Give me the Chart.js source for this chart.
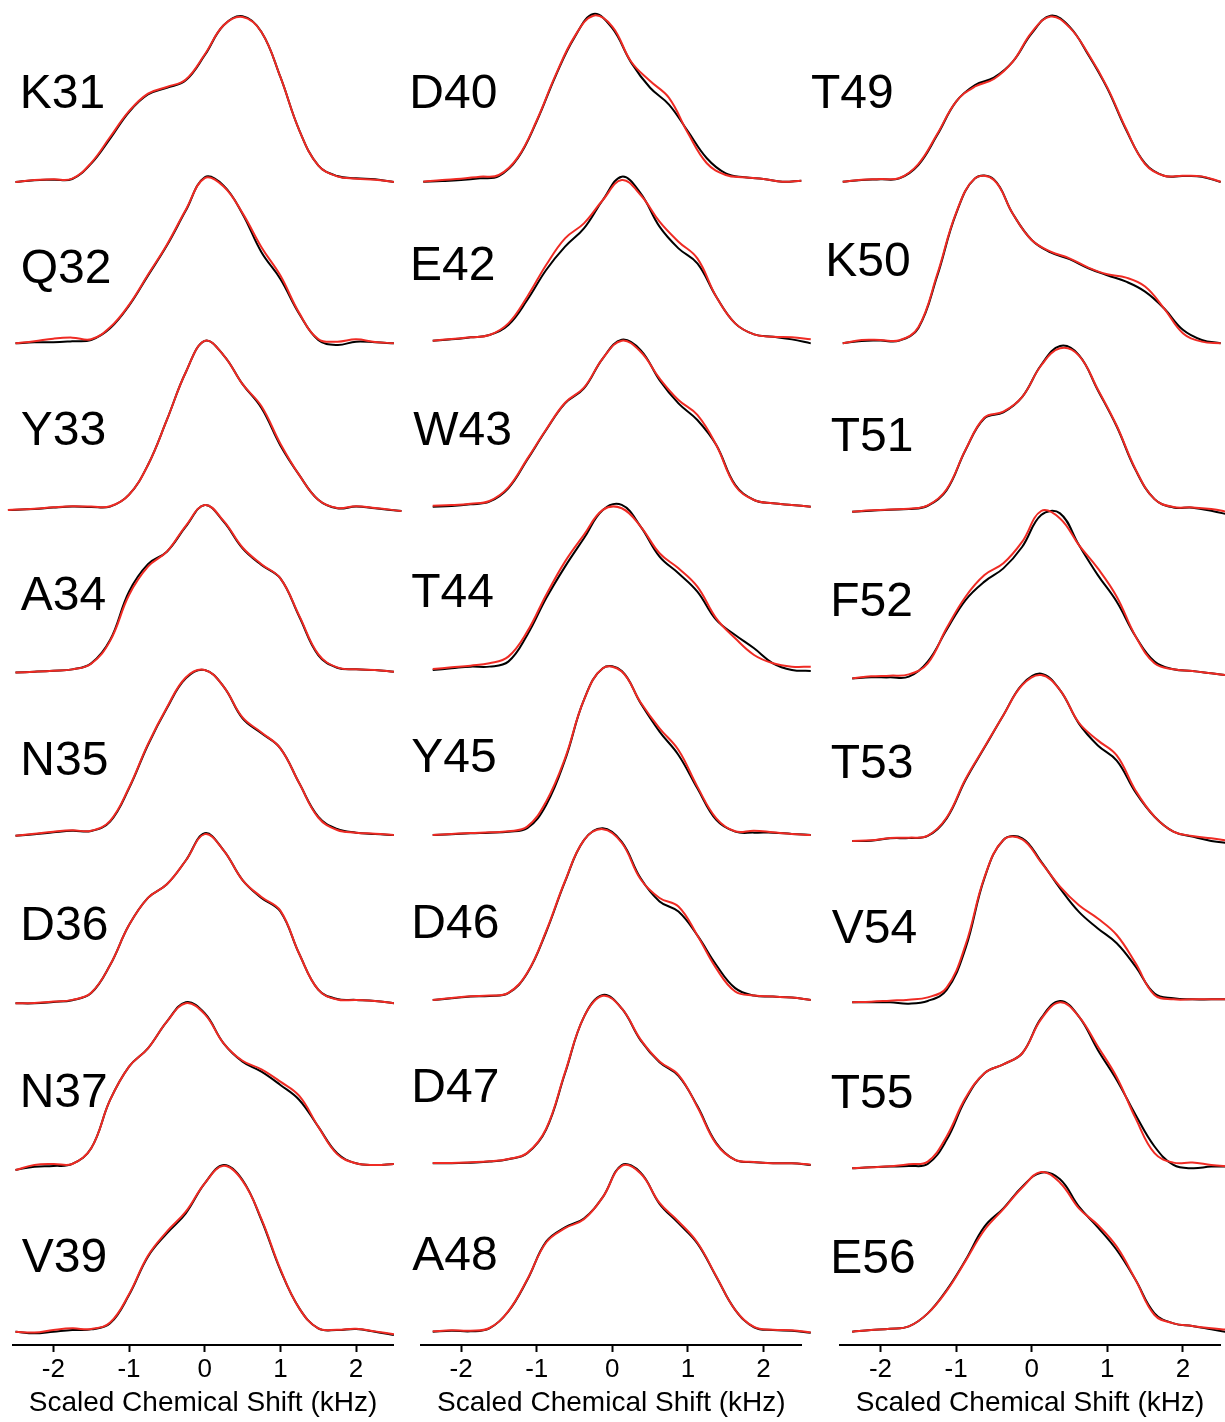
<!DOCTYPE html>
<html><head><meta charset="utf-8">
<script src="https://cdn.jsdelivr.net/npm/chart.js@4.4.1/dist/chart.umd.min.js"></script>
<style>
html,body{margin:0;padding:0;background:#fff;}
body{width:1225px;height:1422px;position:relative;overflow:hidden;}
canvas{position:absolute;top:0;}
</style></head><body>
<canvas id="c1" width="405" height="1422" style="left:0px"></canvas>
<canvas id="c2" width="410" height="1422" style="left:405px"></canvas>
<canvas id="c3" width="425" height="1422" style="left:800px"></canvas>
<script>
// ---------- x grids (kHz) ----------
const gridA = [-2.5,-2.25,-2,-1.75,-1.5,-1.25,-1,-0.75,-0.5,-0.25,0,0.25,0.5,0.75,1,1.25,1.5,1.75,2,2.25,2.5];
const gridB = [-2.375,-2.125,-1.875,-1.625,-1.375,-1.125,-0.875,-0.625,-0.375,-0.125,0.125,0.375,0.625,0.875,1.125,1.375,1.625,1.875,2.125,2.375,2.625];
const gridY33 = [-2.6,-2.25,-2,-1.75,-1.5,-1.25,-1,-0.75,-0.5,-0.25,0,0.25,0.5,0.75,1,1.25,1.5,1.75,2,2.25,2.6];
const tickValues = [-2,-1,0,1,2];
const axisTitle = 'Scaled Chemical Shift (kHz)';

// ---------- column 1 ----------
const K31_black = [0.00,0.01,0.014,0.018,0.11,0.26,0.42,0.525,0.565,0.61,0.76,0.94,0.995,0.9,0.63,0.31,0.10,0.036,0.022,0.016,0.0];
const K31_red   = [0.0,0.012,0.016,0.02,0.115,0.27,0.425,0.53,0.57,0.615,0.765,0.94,0.99,0.9,0.63,0.31,0.10,0.034,0.02,0.014,0.0];
const Q32_black = [-0.006,0.0,0.0,0.006,0.014,0.084,0.22,0.40,0.58,0.79,0.99,0.94,0.77,0.54,0.38,0.17,0.014,-0.016,0.004,0.0,-0.006];
const Q32_red   = [-0.006,0.006,0.022,0.028,0.018,0.09,0.225,0.405,0.585,0.795,0.985,0.935,0.775,0.57,0.40,0.175,0.02,0.004,0.018,0.002,-0.006];
const Y33_black = [0.0,0.006,0.014,0.02,0.018,0.02,0.09,0.265,0.53,0.81,0.995,0.91,0.74,0.60,0.38,0.205,0.06,0.01,0.02,0.01,-0.006];
const Y33_red   = [0.0,0.008,0.016,0.022,0.02,0.022,0.09,0.265,0.53,0.81,0.995,0.91,0.74,0.61,0.39,0.205,0.06,0.012,0.022,0.012,-0.006];
const A34_black = [-0.005,0.0,0.006,0.014,0.05,0.19,0.48,0.645,0.72,0.87,1.0,0.90,0.74,0.64,0.56,0.33,0.10,0.024,0.014,0.01,0.0];
const A34_red   = [-0.005,0.0,0.006,0.014,0.048,0.185,0.46,0.63,0.72,0.875,1.0,0.905,0.745,0.645,0.56,0.335,0.105,0.026,0.014,0.01,0.0];
const N35_black = [-0.004,0.004,0.016,0.026,0.024,0.08,0.28,0.54,0.76,0.94,0.99,0.89,0.70,0.61,0.52,0.31,0.11,0.036,0.014,0.006,0.0];
const N35_red   = [-0.004,0.008,0.02,0.028,0.026,0.085,0.285,0.545,0.765,0.945,0.99,0.89,0.705,0.615,0.52,0.31,0.105,0.03,0.014,0.008,0.0];
const D36_black = [0.0,0.0,0.008,0.018,0.06,0.225,0.46,0.62,0.70,0.84,1.0,0.90,0.725,0.62,0.54,0.29,0.08,0.025,0.02,0.014,0.0];
const D36_red   = [0.0,0.002,0.01,0.02,0.062,0.225,0.46,0.62,0.70,0.84,0.995,0.90,0.725,0.625,0.545,0.29,0.08,0.022,0.02,0.014,0.0];
const N37_black = [-0.01,0.01,0.014,0.026,0.12,0.41,0.61,0.72,0.88,0.996,0.93,0.75,0.64,0.58,0.50,0.41,0.25,0.09,0.03,0.02,0.026];
const N37_red   = [-0.01,0.02,0.026,0.026,0.12,0.41,0.61,0.72,0.88,0.99,0.925,0.75,0.645,0.594,0.52,0.434,0.25,0.085,0.03,0.02,0.026];
const V39_black = [0.0,-0.01,0.0,0.01,0.014,0.05,0.22,0.45,0.59,0.71,0.89,1.0,0.91,0.67,0.37,0.14,0.02,0.01,0.016,0.0,-0.02];
const V39_red   = [0.0,-0.005,0.01,0.02,0.016,0.055,0.225,0.455,0.6,0.72,0.89,0.995,0.905,0.675,0.375,0.14,0.02,0.012,0.018,0.002,-0.015];

// ---------- column 2 ----------
const D40_black = [0,0.004,0.01,0.02,0.034,0.14,0.36,0.63,0.86,1.0,0.915,0.71,0.56,0.46,0.30,0.14,0.05,0.026,0.016,0.0,0.006];
const D40_red   = [0,0.01,0.018,0.03,0.04,0.145,0.365,0.635,0.865,0.99,0.925,0.715,0.60,0.50,0.29,0.11,0.04,0.026,0.016,0.0,0.006];
const E42_black = [0,0.008,0.02,0.034,0.094,0.244,0.424,0.564,0.674,0.844,0.984,0.884,0.684,0.554,0.464,0.264,0.104,0.038,0.024,0.008,-0.016];
const E42_red   = [0,0.01,0.02,0.034,0.104,0.264,0.454,0.614,0.704,0.844,0.964,0.874,0.714,0.594,0.494,0.264,0.104,0.038,0.024,0.02,0.008];
const W43_black = [0,0.004,0.014,0.03,0.11,0.28,0.457,0.616,0.705,0.885,0.996,0.934,0.755,0.616,0.517,0.368,0.13,0.04,0.02,0.01,0.0];
const W43_red   = [0.006,0.01,0.018,0.034,0.115,0.285,0.46,0.62,0.71,0.885,0.99,0.924,0.765,0.636,0.547,0.368,0.125,0.04,0.02,0.01,0.0];
const T44_black = [-0.01,0,0.01,0.01,0.04,0.20,0.42,0.61,0.78,0.95,0.98,0.85,0.67,0.57,0.46,0.29,0.20,0.12,0.03,-0.01,-0.016];
const T44_red   = [-0.004,0.006,0.016,0.03,0.07,0.22,0.44,0.64,0.80,0.95,0.96,0.85,0.69,0.60,0.49,0.30,0.18,0.08,0.03,0.01,0.01];
const Y45_black = [-0.01,-0.006,0,0.004,0.01,0.03,0.17,0.44,0.80,0.99,0.974,0.78,0.61,0.47,0.27,0.08,0.01,0.004,0.004,-0.004,-0.01];
const Y45_red   = [-0.01,-0.004,0.002,0.006,0.012,0.04,0.19,0.45,0.80,0.99,0.97,0.785,0.63,0.50,0.28,0.09,0.012,0.016,0.006,-0.004,-0.01];
const D46_black = [-0.01,0,0.01,0.014,0.03,0.147,0.39,0.686,0.93,1.0,0.92,0.706,0.57,0.51,0.37,0.196,0.06,0.016,0.01,0.004,-0.01];
const D46_red   = [-0.01,0.002,0.012,0.016,0.032,0.15,0.395,0.69,0.93,0.995,0.915,0.70,0.59,0.54,0.37,0.176,0.04,0.016,0.01,0.004,-0.01];
const D47_black = [0,0,0.004,0.01,0.024,0.06,0.2,0.535,0.87,1.0,0.92,0.73,0.60,0.52,0.34,0.12,0.02,0.006,0,0,-0.01];
const D47_red   = [0.002,0.002,0.006,0.012,0.026,0.062,0.205,0.54,0.87,0.995,0.92,0.735,0.605,0.525,0.335,0.115,0.02,0.008,0,0,-0.008];
const A48_black = [0,0.006,0.002,0.02,0.12,0.307,0.535,0.62,0.673,0.80,0.99,0.945,0.76,0.645,0.525,0.327,0.13,0.026,0.01,0.006,-0.006];
const A48_red   = [0.002,0.008,0.006,0.022,0.122,0.31,0.53,0.615,0.668,0.80,0.985,0.94,0.765,0.655,0.53,0.33,0.13,0.028,0.012,0.008,-0.004];

// ---------- column 3 ----------
const T49_black = [-0.006,0.004,0.008,0.014,0.094,0.274,0.474,0.574,0.618,0.714,0.884,0.99,0.924,0.754,0.554,0.304,0.104,0.03,0.028,0.024,-0.008];
const T49_red   = [-0.006,0.006,0.01,0.016,0.1,0.28,0.475,0.565,0.61,0.714,0.89,0.985,0.92,0.76,0.56,0.31,0.10,0.03,0.03,0.026,-0.006];
const K50_black = [0,0.014,0.016,0.016,0.09,0.40,0.77,0.98,0.974,0.77,0.614,0.54,0.50,0.446,0.404,0.366,0.307,0.208,0.08,0.02,0];
const K50_red   = [0,0.02,0.02,0.018,0.095,0.41,0.775,0.98,0.97,0.77,0.614,0.545,0.505,0.45,0.41,0.39,0.337,0.208,0.06,0.01,0];
const T51_black = [-0.006,0,0.006,0.01,0.03,0.125,0.368,0.56,0.596,0.69,0.883,0.998,0.943,0.73,0.51,0.246,0.07,0.02,0.018,0,-0.026];
const T51_red   = [-0.006,0.002,0.008,0.012,0.032,0.13,0.37,0.565,0.6,0.69,0.88,0.984,0.94,0.735,0.515,0.25,0.07,0.022,0.02,0.01,-0.01];
const F52_black = [-0.01,-0.004,-0.004,0,0.09,0.28,0.457,0.567,0.646,0.775,0.964,0.974,0.785,0.606,0.447,0.24,0.09,0.044,0.034,0.02,0.006];
const F52_red   = [-0.01,0.002,0.006,0.014,0.08,0.29,0.477,0.606,0.676,0.805,0.988,0.944,0.785,0.646,0.477,0.24,0.08,0.044,0.034,0.02,0.006];
const T53_black = [0,0.002,0.016,0.018,0.03,0.135,0.364,0.557,0.75,0.934,0.998,0.90,0.70,0.57,0.48,0.29,0.145,0.056,0.026,0,-0.014];
const T53_red   = [0,0.004,0.018,0.02,0.032,0.14,0.37,0.56,0.75,0.93,0.99,0.90,0.705,0.60,0.51,0.30,0.145,0.056,0.03,0.016,0];
const V54_black = [-0.008,-0.008,-0.008,-0.016,0,0.067,0.32,0.745,0.976,0.986,0.845,0.683,0.54,0.44,0.35,0.208,0.046,0.016,0.01,0.01,0.01];
const V54_red   = [-0.008,-0.004,0.002,0.008,0.022,0.081,0.34,0.75,0.976,0.98,0.84,0.693,0.58,0.50,0.40,0.228,0.036,0.01,0.01,0.01,0.01];
const T55_black = [0,0.006,0.01,0.014,0.026,0.17,0.41,0.567,0.62,0.686,0.895,0.998,0.905,0.706,0.527,0.318,0.13,0.02,0,0.01,0.01];
const T55_red   = [0,0.006,0.012,0.024,0.04,0.19,0.42,0.567,0.62,0.686,0.89,0.99,0.905,0.726,0.543,0.298,0.09,0.034,0.034,0.02,0.01];
const E56_black = [0,0.01,0.018,0.032,0.11,0.25,0.43,0.63,0.74,0.87,0.954,0.914,0.75,0.626,0.49,0.31,0.11,0.05,0.034,0.014,-0.006];
const E56_red   = [0,0.01,0.018,0.032,0.11,0.245,0.425,0.61,0.735,0.865,0.958,0.894,0.74,0.64,0.51,0.31,0.10,0.05,0.034,0.02,0.01];

// ---------- panel definitions (names + data) ----------
const column1 = [
  {name:'K31', grid:gridA,   black:K31_black, red:K31_red},
  {name:'Q32', grid:gridA,   black:Q32_black, red:Q32_red},
  {name:'Y33', grid:gridY33, black:Y33_black, red:Y33_red},
  {name:'A34', grid:gridA,   black:A34_black, red:A34_red},
  {name:'N35', grid:gridA,   black:N35_black, red:N35_red},
  {name:'D36', grid:gridA,   black:D36_black, red:D36_red},
  {name:'N37', grid:gridA,   black:N37_black, red:N37_red},
  {name:'V39', grid:gridA,   black:V39_black, red:V39_red}
];
const column2 = [
  {name:'D40', grid:gridA, black:D40_black, red:D40_red},
  {name:'E42', grid:gridB, black:E42_black, red:E42_red},
  {name:'W43', grid:gridB, black:W43_black, red:W43_red},
  {name:'T44', grid:gridB, black:T44_black, red:T44_red},
  {name:'Y45', grid:gridB, black:Y45_black, red:Y45_red},
  {name:'D46', grid:gridB, black:D46_black, red:D46_red},
  {name:'D47', grid:gridB, black:D47_black, red:D47_red},
  {name:'A48', grid:gridB, black:A48_black, red:A48_red}
];
const column3 = [
  {name:'T49', grid:gridA, black:T49_black, red:T49_red},
  {name:'K50', grid:gridA, black:K50_black, red:K50_red},
  {name:'T51', grid:gridB, black:T51_black, red:T51_red},
  {name:'F52', grid:gridB, black:F52_black, red:F52_red},
  {name:'T53', grid:gridB, black:T53_black, red:T53_red},
  {name:'V54', grid:gridB, black:V54_black, red:V54_red},
  {name:'T55', grid:gridB, black:T55_black, red:T55_red},
  {name:'E56', grid:gridB, black:E56_black, red:E56_red}
];

// ---------- layout (pixels) ----------
const FONT = '"Liberation Sans", Arial, Helvetica, sans-serif';
const PAD_TOP = 30, AXIS_H = 77, CANVAS_H = 1422;
const layouts = [
  { canvas:'c1', left:0,   width:405, areaL:13,  areaR:393,   xmin:-2.533, xmax:2.488,
    panels:[[182,166.7],[342.3,166.7],[510,170],[671.7,166.7],[835,166.7],[1003.3,170],[1168.3,166.7],[1331.7,166.7]],
    labels:[[22.7,108],[22.7,283],[21.7,445],[20.7,610],[23.3,775],[23.3,940],[22.7,1106.7],[21.7,1271.7]] },
  { canvas:'c2', left:405, width:410, areaL:421, areaR:801.7, xmin:-2.530, xmax:2.505,
    panels:[[181.7,167.7],[340.7,166.7],[506.7,167.7],[668.3,166.7],[833.3,166.7],[998.3,170],[1163.3,168.3],[1331.7,168.3]],
    labels:[[412.3,108],[413,280],[413.3,445],[412.3,606.7],[412.3,772],[414.3,937.7],[414.3,1101.7],[412.3,1270]] },
  { canvas:'c3', left:800, width:425, areaL:840, areaR:1220,  xmin:-2.536, xmax:2.491,
    panels:[[180.7,166.7],[343.3,168.3],[510.7,165],[676.7,167.7],[841,167.7],[1001,165],[1168.3,167.7],[1331.7,166.7]],
    labels:[[812,108],[828.3,276],[831.7,451],[833.3,616],[831.7,777.7],[831.7,942.7],[831.7,1108],[833.3,1272.7]] }
];
const RED = '#ef2b24', BLACK = '#000000';

function buildChart(col, lay) {
  const areaH = CANVAS_H - PAD_TOP - AXIS_H;
  const scales = {
    x: {
      type:'linear', min:lay.xmin, max:lay.xmax,
      afterBuildTicks: s => { s.ticks = tickValues.map(v => ({value:v})); },
      afterFit: s => { s.height = AXIS_H; },
      grid: {drawOnChartArea:false, drawTicks:true, tickLength:7, tickWidth:2, tickColor:'#000'},
      border: {display:true, color:'#000', width:2},
      ticks: {color:'#000', font:{family:FONT, size:26}, padding:2, maxRotation:0, autoSkip:false,
              callback: v => String(v)},
      title: {display:true, text:axisTitle, color:'#000', font:{family:FONT, size:28}, padding:{top:0, bottom:1.6}}
    }
  };
  const datasets = [];
  const lineStyle = {borderWidth:2, pointRadius:0, tension:0.4, capBezierPoints:false, clip:false};
  col.forEach((p, r) => {
    const [base, unit] = lay.panels[r];
    const max = (base - PAD_TOP) / unit;
    scales['y' + r] = {type:'linear', display:false, min: max - areaH / unit, max: max};
    datasets.push(Object.assign({label:p.name + ' black', data:p.grid.map((x,i)=>({x, y:p.black[i]})),
      yAxisID:'y'+r, borderColor:BLACK, order:2}, lineStyle));
    datasets.push(Object.assign({label:p.name + ' red', data:p.grid.map((x,i)=>({x, y:p.red[i]})),
      yAxisID:'y'+r, borderColor:RED, order:1}, lineStyle));
  });
  const labelPlugin = {
    id:'residueLabels',
    beforeDatasetsDraw(chart) {
      const ctx = chart.ctx;
      ctx.save();
      ctx.font = '48px ' + FONT;
      ctx.fillStyle = '#000';
      ctx.textAlign = 'left';
      ctx.textBaseline = 'alphabetic';
      col.forEach((p, r) => {
        const [inkLeft, baseY] = lay.labels[r];
        const m = ctx.measureText(p.name);
        ctx.fillText(p.name, inkLeft - lay.left + m.actualBoundingBoxLeft, baseY);
      });
      ctx.restore();
    }
  };
  return new Chart(document.getElementById(lay.canvas), {
    type:'line',
    data:{datasets},
    options:{
      responsive:false, animation:false, devicePixelRatio:1,
      layout:{padding:{top:PAD_TOP, bottom:0, left:lay.areaL - lay.left, right:lay.left + lay.width - lay.areaR}},
      plugins:{legend:{display:false}, tooltip:{enabled:false}},
      scales
    },
    plugins:[labelPlugin]
  });
}
buildChart(column1, layouts[0]);
buildChart(column2, layouts[1]);
buildChart(column3, layouts[2]);
</script>
</body></html>
